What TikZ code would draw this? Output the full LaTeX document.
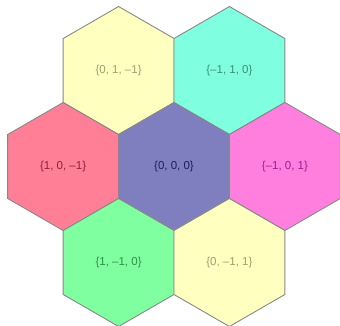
\documentclass[tikz,border=0pt]{standalone}
\usepackage{fontspec}
\setmainfont{Liberation Sans}
\usetikzlibrary{shapes.geometric}
\definecolor{fyel}{HTML}{FFFFC0}\definecolor{tyel}{HTML}{A0A070}
\definecolor{fcya}{HTML}{7FFFDF}\definecolor{tcya}{HTML}{3F8F77}
\definecolor{fred}{HTML}{FF7F97}\definecolor{tred}{HTML}{8F1F3F}
\definecolor{fblu}{HTML}{7F7FBF}\definecolor{tblu}{HTML}{1F1F5F}
\definecolor{fmag}{HTML}{FF7FDF}\definecolor{tmag}{HTML}{9F1F8F}
\definecolor{fgrn}{HTML}{7FFF9F}\definecolor{tgrn}{HTML}{2F8F4F}
\definecolor{edge}{HTML}{888888}
\tikzset{hexcell/.style={regular polygon, regular polygon sides=6, shape border rotate=30,
  minimum size=128pt, inner sep=0pt, outer sep=0pt, draw=edge, line width=0.9pt,
  font=\fontsize{11.5}{13}\selectfont}}
\begin{document}
\begin{tikzpicture}[x=1pt,y=-1pt]
\useasboundingbox (0,0) rectangle (340,326);
\node[hexcell, fill=fyel, text=tyel] (a) at (118.6,70.5) {\{0, 1, –1\}};
\node[hexcell, fill=fcya, text=tcya] (b) at (229.4,70.5) {\{–1, 1, 0\}};
\node[hexcell, fill=fred, text=tred] (c) at (63.1,166.5) {\{1, 0, –1\}};
\node[hexcell, fill=fblu, text=tblu] (d) at (174,166.5) {\{0, 0, 0\}};
\node[hexcell, fill=fmag, text=tmag] (e) at (284.9,166.5) {\{–1, 0, 1\}};
\node[hexcell, fill=fgrn, text=tgrn] (f) at (118.6,262.5) {\{1, –1, 0\}};
\node[hexcell, fill=fyel, text=tyel] (g) at (229.4,262.5) {\{0, –1, 1\}};
\end{tikzpicture}
\end{document}
